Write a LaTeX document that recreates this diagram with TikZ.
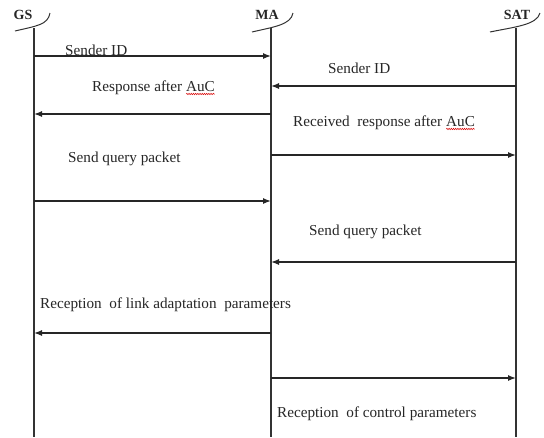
\documentclass[tikz,border=0pt]{standalone}
\usepackage{fontspec}
\setmainfont{Liberation Serif}
\usetikzlibrary{arrows.meta,decorations.pathmorphing}
\newcommand\wavyword[1]{\tikz[baseline=(w.base)]{\node[inner sep=0pt,outer sep=0pt,anchor=base](w){#1};\draw[red!85!black,line width=0.5pt,decorate,decoration={snake,amplitude=0.7pt,segment length=2.2pt}]([yshift=-3pt]w.base west)--([yshift=-3pt]w.base east);}}
\begin{document}
\begin{tikzpicture}[x=1pt,y=-1pt,
  lbl/.style={font=\fontsize{15.2}{18}\selectfont, inner sep=0pt, anchor=base west, text=black!85},
  hdr/.style={font=\fontsize{14}{16}\selectfont\bfseries, inner sep=0pt, text=black!85},
  life/.style={line width=1.1pt, draw=black!80},
  msg/.style={line width=1.3pt, draw=black!85, -{Latex[length=8pt,width=6pt]}},
  hook/.style={line width=1pt, draw=black!80}]
\useasboundingbox (0,0) rectangle (544,437);

% headers
\node[hdr] (gsh) at (23,15) {GS};
\node[hdr] (mah) at (267,15) {MA};
\node[hdr] (sath) at (517,15) {SAT};
\draw[hook] (15,31) .. controls (36,26) and (48,25) .. (50,13);
\draw[hook] (252,32) .. controls (273,27) and (291,25) .. (293,13);
\draw[hook] (490,32) .. controls (514,27) and (537,25) .. (540,13);

% lifelines
\coordinate (GS) at (34,28);
\coordinate (MA) at (271,28);
\coordinate (SAT) at (516,28);
\coordinate (GSb) at (34,437);
\coordinate (MAb) at (271,437);
\coordinate (SATb) at (516,437);
\draw[life] (GS) -- (GSb);
\draw[life] (MA) -- (MAb);
\draw[life] (SAT) -- (SATb);

% message rows
\foreach \n/\y in {1/56,2/86,3/114,4/155,5/201,6/262,7/333,8/378}{
  \coordinate (r\n) at (0,\y);
}
\draw[msg] (GS |- r1) -- (MA |- r1);
\draw[msg] (SAT |- r2) -- (MA |- r2);
\draw[msg] (MA |- r3) -- (GS |- r3);
\draw[msg] (MA |- r4) -- (SAT |- r4);
\draw[msg] (GS |- r5) -- (MA |- r5);
\draw[msg] (SAT |- r6) -- (MA |- r6);
\draw[msg] (MA |- r7) -- (GS |- r7);
\draw[msg] (MA |- r8) -- (SAT |- r8);

% labels
\node[lbl] (l1) at (65,55) {Sender ID};
\node[lbl] (l2) at (328,73) {Sender ID};
\node[lbl] (l3) at (92,91) {Response after \wavyword{AuC}};
\node[lbl] (l4) at (293,126) {Received\ \ response after \wavyword{AuC}};
\node[lbl] (l5) at (68,162) {Send query packet};
\node[lbl] (l6) at (309,235) {Send query packet};
\node[lbl] (l7) at (40,308) {Reception\ \ of link adaptation\ \ parameters};
\node[lbl] (l8) at (277,417) {Reception\ \ of control parameters};
\end{tikzpicture}
\end{document}
